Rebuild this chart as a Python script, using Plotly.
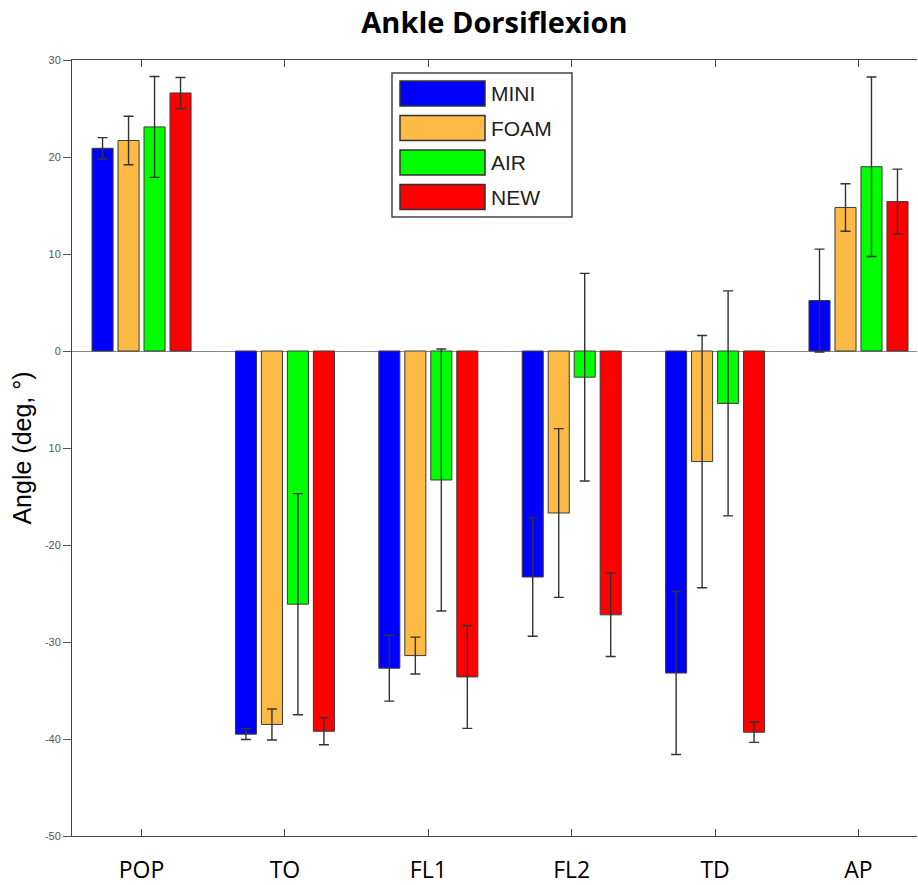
import plotly.graph_objects as go

# Phases of the movement and the four conditions compared
phases = ["POP", "TO", "FL1", "FL2", "TD", "AP"]
conditions = ["MINI", "FOAM", "AIR", "NEW"]
colors = ["#0000FF", "#FDBA45", "#00FF00", "#FF0000"]

# Mean ankle dorsiflexion angle (deg) per phase
mini_mean = [20.9, -39.5, -32.7, -23.3, -33.2, 5.2]
foam_mean = [21.7, -38.5, -31.4, -16.7, -11.4, 14.8]
air_mean = [23.1, -26.1, -13.3, -2.7, -5.4, 19.0]
new_mean = [26.6, -39.2, -33.6, -27.2, -39.3, 15.4]

# Standard deviations (deg)
mini_sd = [1.1, 0.55, 3.4, 6.1, 8.4, 5.3]
foam_sd = [2.5, 1.6, 1.9, 8.7, 13.0, 2.45]
air_sd = [5.2, 11.4, 13.5, 10.7, 11.6, 9.25]
new_sd = [1.6, 1.4, 5.3, 4.3, 1.05, 3.35]

# y-axis ticks (the -10 tick is printed without its sign)
y_tickvals = [-50, -40, -30, -20, -10, 0, 10, 20, 30]
y_ticktext = ["-50", "-40", "-30", "-20", "10", "0", "10", "20", "30"]

means = [mini_mean, foam_mean, air_mean, new_mean]
sds = [mini_sd, foam_sd, air_sd, new_sd]

W, H = 918, 885
L, R, T, B = 72, 1, 60, 49

fig = go.Figure()
for name, color, m, s in zip(conditions, colors, means, sds):
    fig.add_trace(go.Bar(
        x=phases, y=m, name=name,
        marker=dict(color=color, line=dict(color="#3a3a3a", width=1)),
        error_y=dict(type="data", array=s, visible=True,
                     color="#333333", thickness=1.4, width=5),
        showlegend=False,
    ))

# Legend drawn as a boxed key with wide colour swatches
pw, ph = W - L - R, H - T - B


def px(x):
    return (x - L) / pw


def py(y):
    return 1 - (y - T) / ph


shapes = [dict(type="rect", xref="paper", yref="paper",
               x0=px(392), x1=px(572), y0=py(217), y1=py(73),
               line=dict(color="#444444", width=1.5), fillcolor="white", layer="above")]
annotations = []
for i, (name, color) in enumerate(zip(conditions, colors)):
    top = 81 + i * 34.5
    shapes.append(dict(type="rect", xref="paper", yref="paper",
                       x0=px(400), x1=px(485), y0=py(top + 25), y1=py(top),
                       line=dict(color="#333333", width=1.5), fillcolor=color, layer="above"))
    annotations.append(dict(xref="paper", yref="paper", x=px(489), y=py(top + 13),
                            text=name, showarrow=False, xanchor="left", yanchor="middle",
                            font=dict(family="Liberation Sans, Arial", size=21, color="#222222")))

fig.update_layout(
    width=W, height=H,
    margin=dict(l=L, r=R, t=T, b=B),
    paper_bgcolor="white", plot_bgcolor="white",
    barmode="group", bargap=0.275, bargroupgap=0.19,
    title=dict(text="<b>Ankle Dorsiflexion</b>", x=(L + pw / 2) / W, xanchor="center",
               y=1 - 23 / H, yanchor="middle",
               font=dict(family="Open Sans", size=29, color="black")),
    shapes=shapes, annotations=annotations,
    xaxis=dict(range=[-0.485, 5.408], showline=True, linecolor="#444444", linewidth=1,
               mirror="ticks", ticks="inside", ticklen=7, tickcolor="#444444",
               ticklabelstandoff=13, automargin=True,
               tickfont=dict(family="Open Sans", size=23, color="black"),
               showgrid=False, zeroline=False),
    yaxis=dict(range=[-50, 30], tickvals=y_tickvals, ticktext=y_ticktext,
               showline=True, linecolor="#444444", linewidth=1, mirror=False,
               ticks="outside", ticklen=8, tickcolor="#555555", automargin=False,
               tickfont=dict(family="Liberation Sans, Arial", size=11, color="#555555"),
               showgrid=False, zeroline=True, zerolinecolor="#888888", zerolinewidth=1,
               title=dict(text="Angle (deg, °)", standoff=6,
                          font=dict(family="Liberation Sans, Arial", size=25, color="black"))),
)

fig.write_html("out.html")
